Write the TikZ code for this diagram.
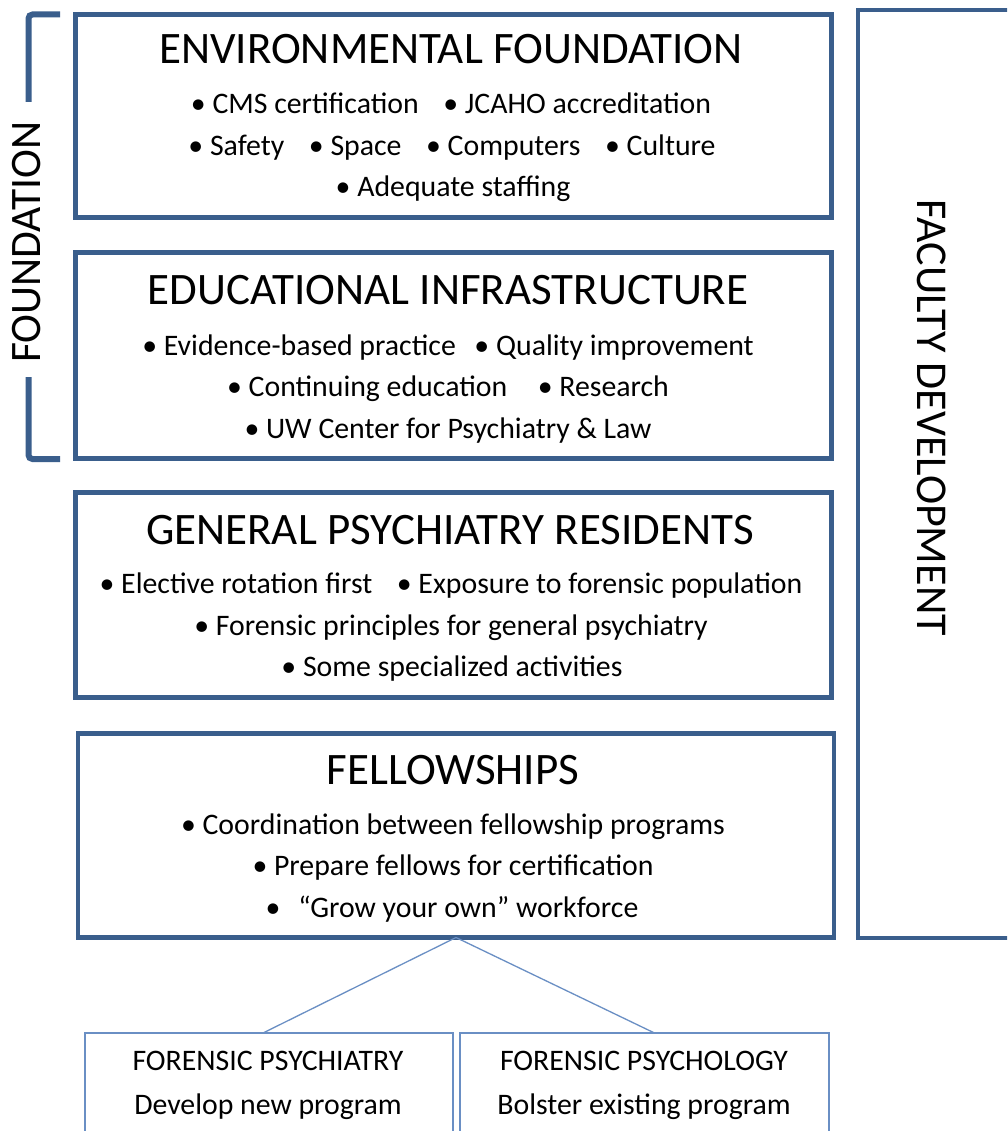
\documentclass[tikz,border=0pt]{standalone}
\usepackage{fontspec}
\setmainfont{Carlito}
\definecolor{frame}{HTML}{3A5E8C}
\definecolor{thin}{HTML}{6A8FC4}
\begin{document}
\begin{tikzpicture}[x=1pt,y=-1pt,
  tier/.style={draw=frame, line width=4.8pt, minimum width=756pt, inner sep=0pt, outer sep=0pt},
  head/.style={anchor=base, font=\fontsize{45}{50}\selectfont, inner sep=0pt},
  item/.style={anchor=base, font=\fontsize{29.8}{35}\selectfont, inner sep=0pt},
  sub/.style={draw=thin, line width=1.3pt, minimum height=110pt, inner sep=0pt, outer sep=0pt, anchor=north west},
  link/.style={draw=thin, line width=1.3pt}]
\clip (0,0) rectangle (1007,1131);
\fill[white] (0,0) rectangle (1007,1131);

% four stacked tiers
\node[tier, minimum height=203pt] (env) at (453.5,116) {};
\node[tier, minimum height=206pt] (edu) at (453.5,355.5) {};
\node[tier, minimum height=205pt] (gen) at (453.5,595) {};
\node[tier, minimum height=204pt] (fel) at (456,835.5) {};

% tier 1
\node[head] (envh) at (451,64) {ENVIRONMENTAL FOUNDATION};
\node[item] (env1) at (451,114) {• CMS certification\hspace{0.6em} • JCAHO accreditation};
\node[item] (env2) at (452,156) {• Safety\hspace{0.6em} • Space\hspace{0.6em} • Computers\hspace{0.6em} • Culture};
\node[item] (env3) at (453,197) {• Adequate staffing};

% tier 2
\node[head] (eduh) at (448,305) {EDUCATIONAL INFRASTRUCTURE};
\node[item] (edu1) at (448,355) {• Evidence-based practice\hspace{0.4em} • Quality improvement};
\node[item] (edu2) at (448,396) {• Continuing education\hspace{0.8em} • Research};
\node[item] (edu3) at (448,438) {• UW Center for Psychiatry \& Law};

% tier 3
\node[head] (genh) at (450,544) {GENERAL PSYCHIATRY RESIDENTS};
\node[item] (gen1) at (451,593) {• Elective rotation first\hspace{0.6em} • Exposure to forensic population};
\node[item] (gen2) at (451,635) {• Forensic principles for general psychiatry};
\node[item] (gen3) at (452,676) {• Some specialized activities};

% tier 4
\node[head] (felh) at (453,784) {FELLOWSHIPS};
\node[item] (fel1) at (453,834) {• Coordination between fellowship programs};
\node[item] (fel2) at (453,875) {• Prepare fellows for certification};
\node[item] (fel3) at (452,917) {•\hspace{0.6em}“Grow your own” workforce};

% side column
\node[draw=frame, line width=4pt, minimum width=200pt, minimum height=928pt,
      inner sep=0pt, outer sep=0pt, anchor=north west] (fac) at (857.5,10) {};
\node[rotate=-90, font=\fontsize{44}{50}\selectfont, inner sep=0pt] (fact) at (932,418) {FACULTY DEVELOPMENT};

% foundation bracket
\draw[frame, line width=6pt, rounded corners=4pt] (60,14.5) -- (28.5,14.5) -- (28.5,102);
\draw[frame, line width=6pt, rounded corners=4pt] (28.5,377) -- (28.5,459) -- (60,459);
\node[rotate=90, font=\fontsize{43.5}{50}\selectfont, inner sep=0pt] (found) at (27,242) {FOUNDATION};

% fellowship branches
\node[sub, minimum width=368pt] (psy) at (85,1033) {};
\node[sub, minimum width=369pt] (psl) at (460,1033) {};
\node[item] (psyt) at (268,1070) {FORENSIC PSYCHIATRY};
\node[item] (psyd) at (268,1114) {Develop new program};
\node[item] (pslt) at (644,1070) {FORENSIC PSYCHOLOGY};
\node[item] (psld) at (644,1114) {Bolster existing program};
\draw[link] (fel.south) -- ([xshift=-6pt]psy.north);
\draw[link] (fel.south) -- ([xshift=10pt]psl.north);
\end{tikzpicture}
\end{document}
